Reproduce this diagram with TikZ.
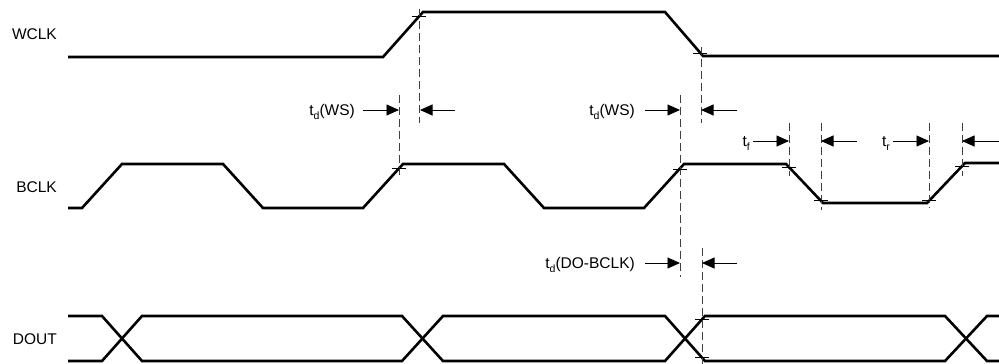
\documentclass[tikz,border=0pt]{standalone}
\usepackage{fontspec}
\setmainfont{Liberation Sans}
\usetikzlibrary{arrows.meta}
\newcommand{\tsub}[2]{#1\raisebox{-3.5pt}{\fontsize{10.5}{10.5}\selectfont #2}}
\begin{document}
\begin{tikzpicture}[x=1pt,y=-1pt,
  signal/.style={line width=2.6pt,line join=miter,black},
  guide/.style={line width=0.8pt,black!75,dash pattern=on 8pt off 4pt},
  tickmark/.style={line width=0.9pt,black},
  dimarrow/.style={line width=0.9pt,-{Triangle[length=12.5pt,width=11pt]}},
  siglabel/.style={font=\fontsize{15.5}{17}\selectfont,anchor=east,inner sep=0pt},
  dimlabel/.style={font=\fontsize{15.5}{17}\selectfont,anchor=base east,inner sep=0pt}]
\useasboundingbox (0,0) rectangle (999,364);
% labels
\node[siglabel] (lw) at (57,34) {WCLK};
\node[siglabel] (lb) at (57,187) {BCLK};
\node[siglabel] (ld) at (57,339) {DOUT};
% WCLK
\draw[signal] (68,57) -- (383,57) -- (423,12) -- (665,12) -- (703,56) -- (999,56);
% BCLK
\draw[signal] (68,208) -- (82,208) -- (122,164) -- (223,164) -- (263,208) -- (363,208)
  -- (403,164) -- (504,164) -- (544,208) -- (644,208) -- (684,164) -- (786,164)
  -- (823,203) -- (927,203) -- (965,163) -- (999,163);
% DOUT
\draw[signal] (68,316) -- (102,316) -- (142,361) -- (402,361) -- (443,316) -- (665,316)
  -- (705,361) -- (945,361) -- (987,316) -- (999,316);
\draw[signal] (68,361) -- (102,361) -- (142,316) -- (402,316) -- (443,361) -- (665,361)
  -- (705,316) -- (945,316) -- (987,361) -- (999,361);
% guide lines
\draw[guide] (419,9) -- (419,123);
\draw[guide] (399,95) -- (399,176);
\draw[guide] (701,47) -- (701,123);
\draw[guide] (680,95) -- (680,277);
\draw[guide] (702,248) -- (702,364);
\draw[guide] (789,123) -- (789,176);
\draw[guide] (821,123) -- (821,210);
\draw[guide] (929,123) -- (929,208);
\draw[guide] (962,123) -- (962,176);
% tick marks
\foreach \x/\y in {419/16.5, 700/53, 399/168.4, 680/169.5, 789/167.2, 821/200, 929/200, 962/166, 702/319.5, 702/357.5}
  \draw[tickmark] (\x-7,\y) -- (\x+7,\y);
% dimension arrows
\coordinate (a1s) at (363,110); \coordinate (a1e) at (399,110);
\coordinate (b1s) at (455,110); \coordinate (b1e) at (420,110);
\draw[dimarrow] (a1s) -- (a1e);
\draw[dimarrow] (b1s) -- (b1e);
\node[dimlabel] (t1) at (355,115.5) {\tsub{t}{d}(WS)};
\coordinate (a2s) at (645,110); \coordinate (a2e) at (680,110);
\coordinate (b2s) at (737,110); \coordinate (b2e) at (701,110);
\draw[dimarrow] (a2s) -- (a2e);
\draw[dimarrow] (b2s) -- (b2e);
\node[dimlabel] (t2) at (635,115.5) {\tsub{t}{d}(WS)};
\coordinate (a3s) at (753,141); \coordinate (a3e) at (789,141);
\coordinate (b3s) at (857,141); \coordinate (b3e) at (821,141);
\draw[dimarrow] (a3s) -- (a3e);
\draw[dimarrow] (b3s) -- (b3e);
\node[dimlabel] (t3) at (750,146.5) {\tsub{t}{f}};
\coordinate (a4s) at (893,141); \coordinate (a4e) at (929,141);
\coordinate (b4s) at (999,141); \coordinate (b4e) at (962,141);
\draw[dimarrow] (a4s) -- (a4e);
\draw[dimarrow] (b4s) -- (b4e);
\node[dimlabel] (t4) at (890,146.5) {\tsub{t}{r}};
\coordinate (a5s) at (645,263); \coordinate (a5e) at (680,263);
\coordinate (b5s) at (737,263); \coordinate (b5e) at (702,263);
\draw[dimarrow] (a5s) -- (a5e);
\draw[dimarrow] (b5s) -- (b5e);
\node[dimlabel] (t5) at (635,268.5) {\tsub{t}{d}(DO-BCLK)};
\end{tikzpicture}
\end{document}
